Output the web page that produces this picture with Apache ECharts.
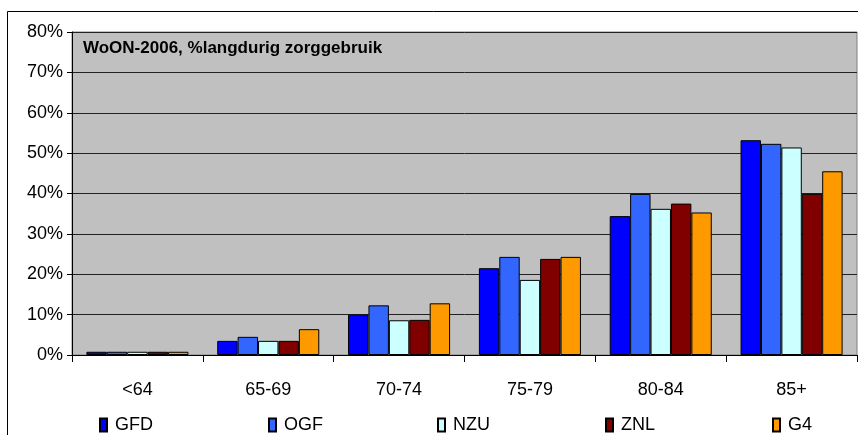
<!DOCTYPE html>
<html>
<head>
<meta charset="utf-8">
<script src="https://cdn.jsdelivr.net/npm/echarts@6/dist/echarts.min.js"></script>
<style>
  html, body { margin: 0; padding: 0; background: #fff; }
  #chart { width: 858px; height: 435px; }
</style>
</head>
<body>
<div id="chart"></div>
<script>
const categories = ["<64", "65-69", "70-74", "75-79", "80-84", "85+"];
const gfd = [0.8, 3.5, 10.0, 21.5, 34.4, 53.2];
const ogf = [0.8, 4.5, 12.3, 24.3, 39.9, 52.3];
const nzu = [0.8, 3.5, 8.6, 18.6, 36.2, 51.4];
const znl = [0.8, 3.5, 8.7, 23.8, 37.5, 39.9];
const g4 = [0.8, 6.4, 12.8, 24.3, 35.3, 45.5];
const yTicks = [0, 80, 10];

const names = ["GFD", "OGF", "NZU", "ZNL", "G4"];
const colors = ["#0000ff", "#3366ff", "#ccffff", "#800000", "#ff9900"];
const values = [gfd, ogf, nzu, znl, g4];
const legendLeft = [94, 263, 432, 600, 767];

const font = "Arial, 'Liberation Sans', sans-serif";

const chart = echarts.init(document.getElementById("chart"));

chart.setOption({
  animation: false,
  backgroundColor: "#fff",
  textStyle: { fontFamily: font },
  grid: {
    left: 72,
    right: 1,
    top: 32,
    bottom: 80,
    show: true,
    backgroundColor: "#c0c0c0",
    borderColor: "#808080",
    borderWidth: 1
  },
  graphic: [
    {
      type: "rect",
      shape: { x: 7.5, y: 11.5, width: 900, height: 500 },
      style: { fill: "none", stroke: "#000", lineWidth: 1 },
      z: 0
    },
    {
      type: "text",
      left: 83,
      top: 40,
      style: {
        text: "WoON-2006, %langdurig zorggebruik",
        font: "bold 17px " + font,
        fill: "#000"
      },
      z: 10
    }
  ],
  legend: names.map((n, i) => ({
    data: [n],
    left: legendLeft[i],
    top: 411,
    itemWidth: 7,
    itemHeight: 13,
    icon: "rect",
    selectedMode: false,
    textStyle: { fontSize: 18, color: "#000", fontFamily: font, padding: [0, 0, 0, 3] }
  })),
  xAxis: {
    type: "category",
    data: categories,
    axisLine: { lineStyle: { color: "#000", width: 1 } },
    axisTick: { show: true, length: 7, lineStyle: { color: "#000" } },
    axisLabel: { fontSize: 18, color: "#000", margin: 26, interval: 0 },
    splitLine: { show: false }
  },
  yAxis: {
    type: "value",
    min: yTicks[0],
    max: yTicks[1],
    interval: yTicks[2],
    axisLine: { show: true, lineStyle: { color: "#000", width: 1 } },
    axisTick: { show: true, length: 5, lineStyle: { color: "#000" } },
    axisLabel: { fontSize: 18, color: "#000", margin: 9, formatter: "{value}%" },
    splitLine: { show: true, lineStyle: { color: "#222", width: 1 } }
  },
  series: names.map((n, i) => ({
    name: n,
    type: "bar",
    data: values[i],
    barGap: "0%",
    barCategoryGap: "22%",
    itemStyle: { color: colors[i], borderColor: "#000", borderWidth: 1 }
  }))
});
</script>
</body>
</html>
